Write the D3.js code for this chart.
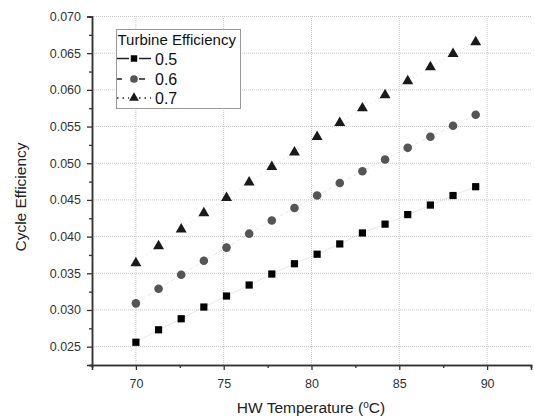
<!DOCTYPE html>
<html><head><meta charset="utf-8">
<script src="https://cdn.jsdelivr.net/npm/d3@7"></script>
<style>
html,body{margin:0;padding:0;background:#fff;}
svg{display:block;font-family:"Liberation Sans",Arial,sans-serif;}
</style></head>
<body><svg id="c" width="535" height="420"></svg>
<script>
const temps = [70.0, 71.29, 72.58, 73.87, 75.16, 76.45, 77.74, 79.03, 80.32, 81.61, 82.9, 84.19, 85.48, 86.77, 88.06, 89.35];
const eff05 = [0.0256, 0.0273, 0.0288, 0.0304, 0.0319, 0.0334, 0.0349, 0.0363, 0.0376, 0.0390, 0.0405, 0.0417, 0.0430, 0.0443, 0.0456, 0.0468];
const eff06 = [0.0309, 0.0329, 0.0348, 0.0367, 0.0385, 0.0404, 0.0422, 0.0439, 0.0456, 0.0473, 0.0489, 0.0505, 0.0521, 0.0536, 0.0551, 0.0566];
const eff07 = [0.0364, 0.0387, 0.0410, 0.0432, 0.0453, 0.0474, 0.0495, 0.0515, 0.0536, 0.0555, 0.0575, 0.0593, 0.0612, 0.0631, 0.0649, 0.0665];
const seriesNames = ["0.5", "0.6", "0.7"];
const xTicks = [70, 75, 80, 85, 90];
const xMinor = [67.5, 72.5, 77.5, 82.5, 87.5, 92.5];
const yTicks = [0.025, 0.030, 0.035, 0.040, 0.045, 0.050, 0.055, 0.060, 0.065, 0.070];
const yMinor = [0.0225, 0.0275, 0.0325, 0.0375, 0.0425, 0.0475, 0.0525, 0.0575, 0.0625, 0.0675];

const svg = d3.select("#c");
const L = 92, R = 531, T = 16.5, B = 365;
const x = d3.scaleLinear().domain([67.5, 92.5]).range([L, R]);
const y = d3.scaleLinear().domain([0.0225, 0.070]).range([B, T]);

// grid
const g = svg.append("g");
g.selectAll("line.gx").data(xTicks).enter().append("line")
  .attr("x1", d => x(d)).attr("x2", d => x(d)).attr("y1", B).attr("y2", T)
  .attr("stroke", "#c8c8c8").attr("stroke-width", 1).attr("stroke-dasharray", "1,1");
g.selectAll("line.gy").data(yTicks).enter().append("line")
  .attr("x1", L).attr("x2", R).attr("y1", d => y(d)).attr("y2", d => y(d))
  .attr("stroke", "#c8c8c8").attr("stroke-width", 1).attr("stroke-dasharray", "1,1");

// axes
const axCol = "#333";
const xAxis = svg.append("g").attr("transform", `translate(0,${B})`)
  .call(d3.axisBottom(x).tickValues(xTicks).tickFormat(d3.format("d")).tickSize(5).tickPadding(9));
const xAxisMinor = svg.append("g").attr("transform", `translate(0,${B})`)
  .call(d3.axisBottom(x).tickValues(xMinor).tickFormat("").tickSize(3));
const yAxis = svg.append("g").attr("transform", `translate(${L},0)`)
  .call(d3.axisLeft(y).tickValues(yTicks).tickFormat(d3.format(".3f")).tickSize(5).tickPadding(6));
const yAxisMinor = svg.append("g").attr("transform", `translate(${L},0)`)
  .call(d3.axisLeft(y).tickValues(yMinor).tickFormat("").tickSize(3));
[xAxis, xAxisMinor, yAxis, yAxisMinor].forEach(a => {
  a.select(".domain").attr("stroke", axCol).attr("stroke-width", 1.5);
  a.selectAll(".tick line").attr("stroke", axCol).attr("stroke-width", 1.3);
  a.selectAll(".tick text").attr("fill", "#333").style("font-size", "12.5px")
    .style("font-family", "'Liberation Sans',Arial,sans-serif");
});

// series
const series = [
  {name: seriesNames[0], vals: eff05, col: "#000", dash: null, ldash: [null, null], sym: d3.symbolSquare, size: 52},
  {name: seriesNames[1], vals: eff06, col: "#555", dash: "4,3", ldash: ["5,20", "6,20"], sym: d3.symbolCircle, size: 58},
  {name: seriesNames[2], vals: eff07, col: "#1a1a1a", dash: "1.5,3", ldash: ["1.5,4", "1.5,4"], sym: d3.symbolTriangle, size: 52}
];
const line = d3.line().x(d => x(d[0])).y(d => y(d[1]));
series.forEach(s => {
  const pts = temps.map((t, i) => [t, s.vals[i]]);
  svg.append("path").datum(pts).attr("d", line)
    .attr("fill", "none").attr("stroke", "#cfcfcf").attr("stroke-width", 0.5)
    .attr("stroke-dasharray", s.dash);
  svg.append("g").selectAll("path").data(pts).enter().append("path")
    .attr("transform", d => `translate(${x(d[0])},${y(d[1])})`)
    .attr("d", d3.symbol().type(s.sym).size(s.size))
    .attr("fill", s.col);
});

// legend
const lg = svg.append("g");
lg.append("rect").attr("x", 116.5).attr("y", 29.5).attr("width", 124).attr("height", 79)
  .attr("fill", "#fff").attr("stroke", "#999").attr("stroke-width", 1);
lg.append("text").attr("x", 117.5).attr("y", 44.5).text("Turbine Efficiency")
  .style("font-size", "15px").attr("fill", "#111");
const lyPos = [58.5, 79, 98];
series.forEach((s, i) => {
  lg.append("line").attr("x1", 117).attr("x2", 129).attr("y1", lyPos[i]).attr("y2", lyPos[i])
    .attr("stroke", "#222").attr("stroke-width", 1.5).attr("stroke-dasharray", s.ldash[0]);
  lg.append("line").attr("x1", 139).attr("x2", 151).attr("y1", lyPos[i]).attr("y2", lyPos[i])
    .attr("stroke", "#222").attr("stroke-width", 1.5).attr("stroke-dasharray", s.ldash[1]);
  lg.append("path").attr("transform", `translate(134,${lyPos[i]})`)
    .attr("d", d3.symbol().type(s.sym).size(s.size * 0.8)).attr("fill", s.col);
  lg.append("text").attr("x", 155).attr("y", lyPos[i] + 6).text(s.name)
    .style("font-size", "16px").attr("fill", "#111");
});

// axis titles
svg.append("text").attr("x", 311).attr("y", 413).attr("text-anchor", "middle")
  .style("font-size", "15.5px").attr("fill", "#222")
  .html('HW Temperature (<tspan dy="-5" font-size="10px">o</tspan><tspan dy="5">C)</tspan>');
svg.append("text").attr("transform", "translate(26,197) rotate(-90)").attr("text-anchor", "middle")
  .style("font-size", "15.5px").attr("fill", "#222").text("Cycle Efficiency");
</script></body></html>
